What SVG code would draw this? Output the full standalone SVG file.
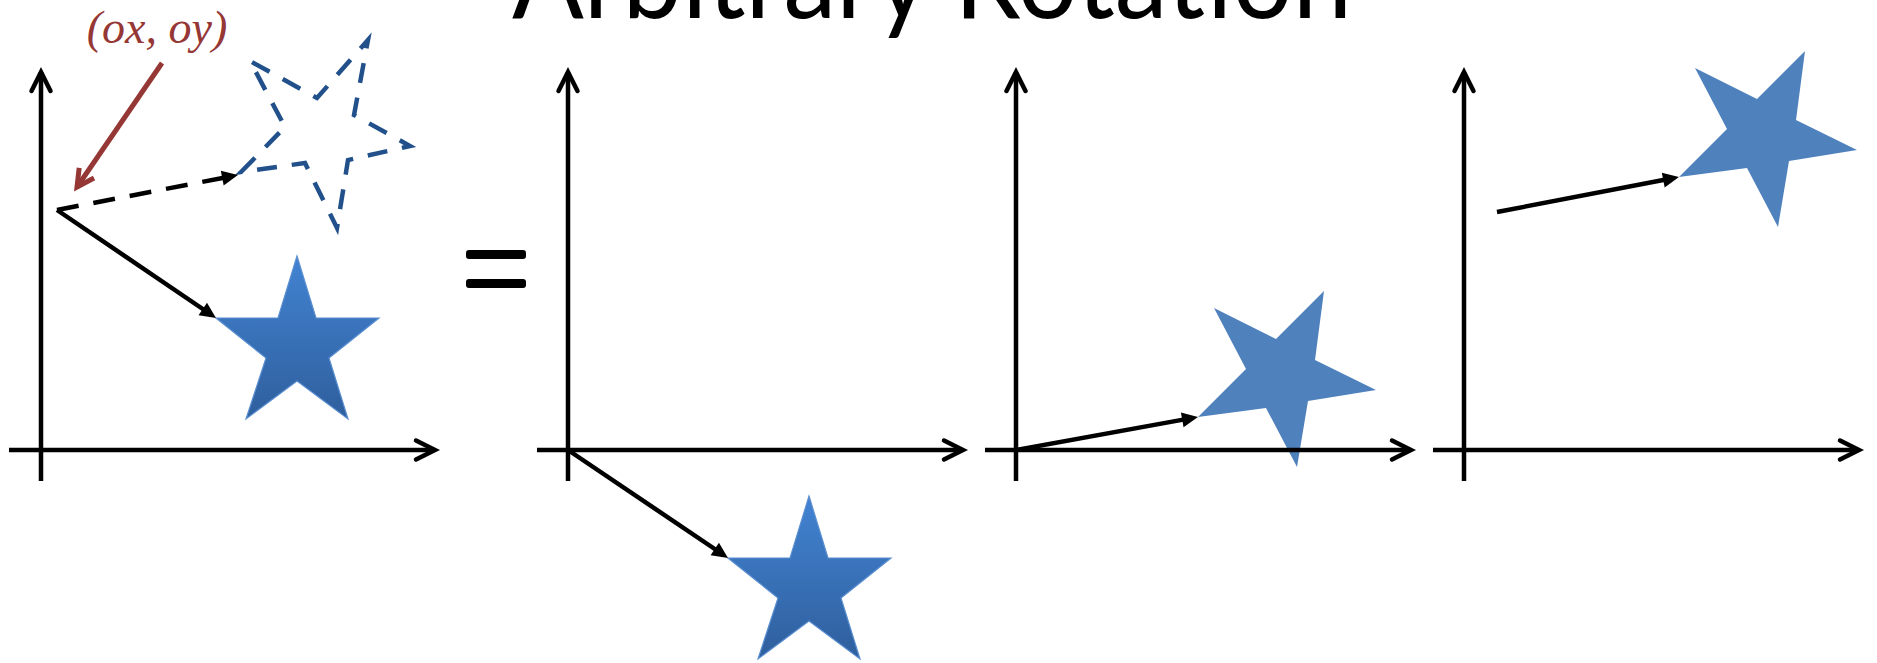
<svg xmlns="http://www.w3.org/2000/svg" xmlns:xlink="http://www.w3.org/1999/xlink" width="1877" height="663" viewBox="0 0 1877 663">
<style>
.axis{stroke:#000;stroke-width:4.5;fill:none;marker-end:url(#chev)}
.vec{stroke:#000;stroke-width:4.5;fill:none;marker-end:url(#tri)}
.dash{stroke-dasharray:22 15}
.dstar{fill:none;stroke:#21508a;stroke-width:4.5;stroke-dasharray:20 15;stroke-linejoin:miter}
.gstar{fill:url(#grad);stroke:#5a8ed0;stroke-width:1.2}
.fstar{fill:#4f81bd}
.title{font-family:Lato,"Open Sans",sans-serif;font-size:115px;fill:#000}
.lbl{font-family:"Liberation Serif",serif;font-style:italic;font-size:46px;fill:#953735}
</style>
<defs>
<linearGradient id="grad" x1="0" y1="0" x2="0" y2="1">
<stop offset="0" stop-color="#4283d2"/>
<stop offset="1" stop-color="#2f5f9d"/>
</linearGradient>
<marker id="chev" markerUnits="userSpaceOnUse" orient="auto" refX="0" refY="0" markerWidth="40" markerHeight="40" viewBox="-30 -20 40 40" overflow="visible">
<path d="M -19 -9.5 L 0 0 L -19 9.5" fill="none" stroke="#000" stroke-width="4.5" stroke-linecap="round" stroke-linejoin="miter"/>
</marker>
<marker id="tri" markerUnits="userSpaceOnUse" orient="auto" refX="0" refY="0" markerWidth="40" markerHeight="40" viewBox="-20 -20 40 40" overflow="visible">
<path d="M 8 0 L -8 -7.5 L -8 7.5 Z" fill="#000"/>
</marker>
<marker id="redhead" markerUnits="userSpaceOnUse" orient="auto" refX="0" refY="0" markerWidth="40" markerHeight="40" viewBox="-20 -20 40 40" overflow="visible">
<path d="M -17 -9 L 0 0 L -17 9" fill="none" stroke="#953735" stroke-width="5" stroke-linejoin="miter"/>
</marker>
<polygon id="star1" points="297,256 316,318 379,318 329,358 348,419 297,381 246,419 266,358 216,318 278,318"/>
<polygon id="rstar" points="0,0 48,-48 16,-109 78,-78 126,-126 117,-57 178,-27 110,-16 99,50 68,-9"/>
</defs>

<text class="title" x="512" y="18" textLength="840" lengthAdjust="spacingAndGlyphs">Arbitrary Rotation</text>

<g id="equals">
<rect x="466" y="250" width="60" height="9" rx="3" fill="#000"/>
<rect x="466" y="279" width="60" height="9" rx="3" fill="#000"/>
</g>

<g id="panel1">
<use xlink:href="#star1" class="gstar"/>
<polygon id="dashed-star" class="dstar" points="241,172 285,127 250,61 317,98 368,40 354,115 410,146 348,160 337,228 305,163"/>
<text id="label-oxoy" class="lbl" x="157" y="43" text-anchor="middle">(ox, oy)</text>
</g>
<g id="panel2">
<use xlink:href="#star1" class="gstar" transform="translate(512,240)"/>
</g>
<g id="panel3">
<use xlink:href="#rstar" class="fstar" transform="translate(1198,417)"/>
</g>
<g id="panel4">
<use xlink:href="#rstar" class="fstar" transform="translate(1679,177)"/>
</g>

<g id="connectors">
<line class="axis" x1="41" y1="481" x2="41" y2="72"/>
<line class="axis" x1="9" y1="450" x2="435" y2="450"/>
<line class="axis" x1="568" y1="481" x2="568" y2="72"/>
<line class="axis" x1="537" y1="450" x2="963" y2="450"/>
<line class="axis" x1="1016" y1="481" x2="1016" y2="72"/>
<line class="axis" x1="985" y1="450" x2="1411" y2="450"/>
<line class="axis" x1="1464" y1="481" x2="1464" y2="72"/>
<line class="axis" x1="1433" y1="450" x2="1859" y2="450"/>
<line class="vec" x1="57" y1="210" x2="209.4" y2="313.5"/>
<line class="vec dash" x1="57" y1="210" x2="230.1" y2="176.5"/>
<line class="vec" x1="568" y1="450" x2="721.4" y2="553.5"/>
<line class="vec" x1="1016" y1="450" x2="1190.1" y2="418.4"/>
<line class="vec" x1="1497" y1="212" x2="1671.1" y2="178.5"/>
<line x1="162" y1="63" x2="77" y2="187" stroke="#953735" stroke-width="5" marker-end="url(#redhead)"/>
</g>
</svg>
